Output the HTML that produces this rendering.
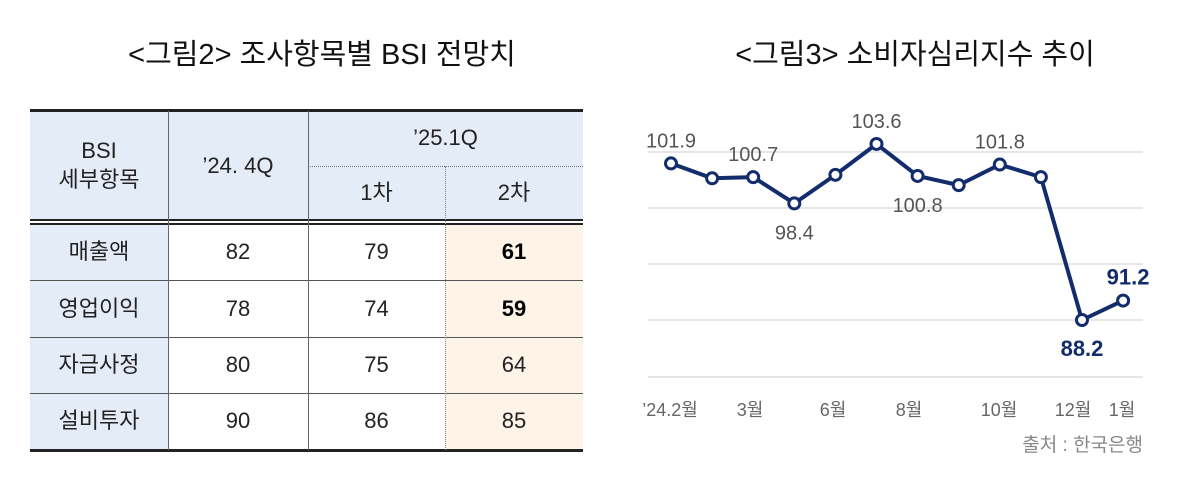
<!DOCTYPE html>
<html><head><meta charset="utf-8">
<style>
body{margin:0;width:1200px;height:480px;background:#fff;position:relative;overflow:hidden;font-family:"Liberation Sans","Noto Sans CJK KR",sans-serif;}
.t{position:absolute;font-size:29px;color:#111;white-space:nowrap;transform:translateX(-50%);}
.c{position:absolute;display:flex;align-items:center;justify-content:center;font-size:22px;color:#222;box-sizing:border-box;text-align:center;line-height:1.3}
.hl{position:absolute;background:#222}
.vl{position:absolute;width:1px;background:#666}
</style></head><body>
<div class="t" style="left:322px;top:31px">&lt;그림2&gt; 조사항목별 BSI 전망치</div>
<div class="t" style="left:915px;top:31px">&lt;그림3&gt; 소비자심리지수 추이</div>

<div>
<div style="position:absolute;left:30px;top:111px;width:553px;height:110px;background:#e4ecf7"></div>
<div style="position:absolute;left:30px;top:225px;width:138px;height:225px;background:#e4ecf7"></div>
<div style="position:absolute;left:445px;top:225px;width:138px;height:225px;background:#fdf3e7"></div>
<div class="hl" style="left:30px;top:109px;width:553px;height:3px"></div>
<div class="hl" style="left:30px;top:219px;width:553px;height:2px"></div>
<div class="hl" style="left:30px;top:223px;width:553px;height:2px"></div>
<div class="hl" style="left:30px;top:280px;width:553px;height:1px;background:#555"></div>
<div class="hl" style="left:30px;top:337px;width:553px;height:1px;background:#555"></div>
<div class="hl" style="left:30px;top:393px;width:553px;height:1px;background:#555"></div>
<div class="hl" style="left:30px;top:449px;width:553px;height:3px"></div>
<div style="position:absolute;left:308px;top:166px;width:275px;border-top:1px dotted #777"></div>
<div class="vl" style="left:168px;top:111px;height:339px"></div>
<div class="vl" style="left:308px;top:111px;height:339px"></div>
<div style="position:absolute;left:445px;top:166px;height:284px;border-left:1px dotted #888"></div>

<div class="c" style="left:30px;top:111px;width:138px;height:110px">BSI<br>세부항목</div>
<div class="c" style="left:168px;top:111px;width:140px;height:110px">’24. 4Q</div>
<div class="c" style="left:308px;top:111px;width:275px;height:55px">’25.1Q</div>
<div class="c" style="left:308px;top:166px;width:137px;height:55px">1차</div>
<div class="c" style="left:445px;top:166px;width:138px;height:55px">2차</div>

<div class="c" style="left:30px;top:225px;width:138px;height:55px">매출액</div>
<div class="c" style="left:168px;top:225px;width:140px;height:55px">82</div>
<div class="c" style="left:308px;top:225px;width:137px;height:55px">79</div>
<div class="c" style="left:445px;top:225px;width:138px;height:55px;font-weight:bold;color:#000">61</div>

<div class="c" style="left:30px;top:281px;width:138px;height:56px">영업이익</div>
<div class="c" style="left:168px;top:281px;width:140px;height:56px">78</div>
<div class="c" style="left:308px;top:281px;width:137px;height:56px">74</div>
<div class="c" style="left:445px;top:281px;width:138px;height:56px;font-weight:bold;color:#000">59</div>

<div class="c" style="left:30px;top:338px;width:138px;height:55px">자금사정</div>
<div class="c" style="left:168px;top:338px;width:140px;height:55px">80</div>
<div class="c" style="left:308px;top:338px;width:137px;height:55px">75</div>
<div class="c" style="left:445px;top:338px;width:138px;height:55px">64</div>

<div class="c" style="left:30px;top:394px;width:138px;height:55px">설비투자</div>
<div class="c" style="left:168px;top:394px;width:140px;height:55px">90</div>
<div class="c" style="left:308px;top:394px;width:137px;height:55px">86</div>
<div class="c" style="left:445px;top:394px;width:138px;height:55px">85</div>
</div>

<svg id="chart" width="1200" height="480" style="position:absolute;left:0;top:0"></svg>
<script>
const values=[101.9,100.6,100.7,98.4,100.9,103.6,100.8,100.0,101.8,100.7,88.2,89.9];
const labels=["101.9","","100.7","98.4","","103.6","100.8","","101.8","","88.2","91.2"];
const tickLabels=["’24.2월","3월","6월","8월","10월","12월","1월"];
const svg=document.getElementById('chart');
const NS='http://www.w3.org/2000/svg';
const x=i=>671+i*41.1;
const y=v=>320-(v-88.2)*11.43;
function mk(t,a){const e=document.createElementNS(NS,t);for(const k in a)e.setAttribute(k,a[k]);svg.appendChild(e);return e;}
[152,208,264,320,377].forEach(gy=>{const g=mk('line',{x1:648,x2:1143,y1:gy,y2:gy,stroke:'#ddd','stroke-width':1.5});

});
const tickX=[670,750,833,909,999,1073,1122];
tickLabels.forEach((t,i)=>{const e=mk('text',{x:tickX[i],y:416,'text-anchor':'middle','font-size':18,fill:'#666','font-family':'Liberation Sans, Noto Sans CJK KR, sans-serif'});e.textContent=t;

});
const pl=mk('polyline',{points:values.map((v,i)=>x(i)+','+y(v)).join(' '),fill:'none',stroke:'#132c6b','stroke-width':4,'stroke-linejoin':'round'});


values.forEach((v,i)=>{const c=mk('circle',{cx:x(i),cy:y(v),r:5.5,fill:'#fff',stroke:'#132c6b','stroke-width':3});

});
const below={3:1,6:1,10:1};
labels.forEach((lab,i)=>{if(!lab)return;const v=values[i];const last=i>=10;
let ly=below[i]?y(v)+36:y(v)-16;
const e=mk('text',{x:x(i)+(i==11?5:0),y:ly,'text-anchor':'middle','font-size':last?22:20,'font-weight':last?'bold':'normal',fill:last?'#132c6b':'#555','font-family':'Liberation Sans, sans-serif'});
e.textContent=lab;

});
const s=mk('text',{x:1143,y:451,'text-anchor':'end','font-size':19,fill:'#888','font-family':'Liberation Sans, Noto Sans CJK KR, sans-serif'});
s.textContent='출처 : 한국은행';


</script>
</body></html>
